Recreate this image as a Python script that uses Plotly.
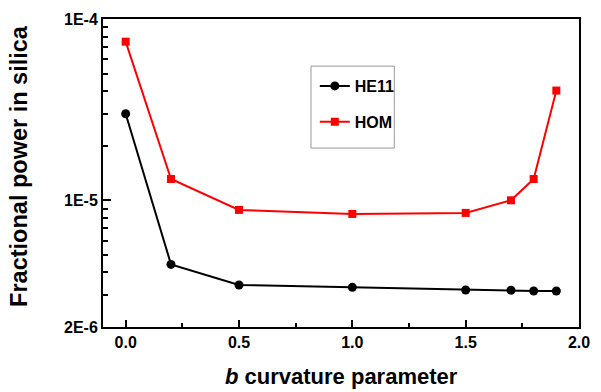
import plotly.graph_objects as go

b_values = [0.0, 0.2, 0.5, 1.0, 1.5, 1.7, 1.8, 1.9]
he11 = [3.0e-5, 4.43e-6, 3.41e-6, 3.31e-6, 3.20e-6, 3.19e-6, 3.16e-6, 3.16e-6]
hom = [7.5e-5, 1.31e-5, 8.85e-6, 8.41e-6, 8.52e-6, 1.0e-5, 1.31e-5, 4.03e-5]

y_tickvals = [1e-4, 1e-5, 2e-6]
y_ticktext = ["1E-4", "1E-5", "2E-6"]
y_minor = [2e-5, 3e-5, 4e-5, 5e-5, 6e-5, 7e-5, 8e-5, 9e-5,
           3e-6, 4e-6, 5e-6, 6e-6, 7e-6, 8e-6, 9e-6]
x_tickvals = [0.0, 0.5, 1.0, 1.5, 2.0]
x_ticktext = ["0.0", "0.5", "1.0", "1.5", "2.0"]
x_minor = [0.25, 0.75, 1.25, 1.75]

x_title = "<i>b</i> curvature parameter"
y_title = "Fractional power in silica"

x_range = [-0.1, 2.0]
y_range = [-5.69897, -4.0]

font_family = "Liberation Sans, Arial, sans-serif"

fig = go.Figure()
fig.add_trace(go.Scatter(
    x=b_values, y=he11, name="HE11", mode="lines+markers", legendgroup="g1",
    line=dict(color="black", width=2),
    marker=dict(symbol="circle", size=9, color="black"),
))
fig.add_trace(go.Scatter(
    x=b_values, y=hom, name="HOM", mode="lines+markers", legendgroup="g2",
    line=dict(color="#ff0000", width=2),
    marker=dict(symbol="square", size=8, color="#ff0000"),
))
# empty trace to host the minor-tick overlay axes
fig.add_trace(go.Scatter(x=[], y=[], xaxis="x2", yaxis="y2",
                         showlegend=False, hoverinfo="skip"))

# legend frame
fig.add_shape(type="rect", xref="paper", yref="paper",
              x0=0.437, x1=0.612, y0=0.581, y1=0.847,
              line=dict(color="#999999", width=1), fillcolor="rgba(0,0,0,0)")

# axis titles
fig.add_annotation(text=x_title, xref="paper", yref="paper", x=0.5, y=-0.16,
                   xanchor="center", yanchor="middle", showarrow=False,
                   font=dict(size=22, family=font_family, weight="bold", color="black"))
fig.add_annotation(text=y_title, xref="paper", yref="paper", x=-0.178, y=0.524,
                   xanchor="center", yanchor="middle", showarrow=False, textangle=-90,
                   font=dict(size=23.5, family=font_family, weight="bold", color="black"))

fig.update_layout(
    width=601, height=392,
    margin=dict(l=103, r=11, t=14, b=65),
    plot_bgcolor="white", paper_bgcolor="white",
    font=dict(family=font_family, color="black"),
    showlegend=True,
    legend=dict(
        x=0.445, y=0.724, xanchor="left", yanchor="middle",
        borderwidth=0, bgcolor="rgba(0,0,0,0)",
        font=dict(size=16, family=font_family, weight="bold"),
        tracegroupgap=12, itemwidth=30,
    ),
    xaxis=dict(
        range=x_range, showgrid=False, zeroline=False,
        showline=True, linecolor="black", linewidth=2, mirror=True,
        ticks="inside", ticklen=7, tickwidth=2, tickcolor="black",
        tickmode="array", tickvals=x_tickvals, ticktext=x_ticktext,
        tickfont=dict(size=16, family=font_family, weight="bold"),
    ),
    yaxis=dict(
        type="log", range=y_range, showgrid=False, zeroline=False,
        showline=True, linecolor="black", linewidth=2, mirror=True,
        ticks="inside", ticklen=8, tickwidth=2, tickcolor="black",
        tickmode="array", tickvals=y_tickvals, ticktext=y_ticktext,
        tickfont=dict(size=16, family=font_family, weight="bold"),
    ),
    xaxis2=dict(
        overlaying="x", anchor="y", side="bottom", range=x_range,
        showgrid=False, zeroline=False, showline=False,
        ticks="inside", ticklen=4, tickwidth=2, tickcolor="black",
        tickmode="array", tickvals=x_minor, showticklabels=False,
    ),
    yaxis2=dict(
        overlaying="y", anchor="x", side="left", type="log", range=y_range,
        showgrid=False, zeroline=False, showline=False,
        ticks="inside", ticklen=5, tickwidth=2, tickcolor="black",
        tickmode="array", tickvals=y_minor, showticklabels=False,
    ),
)

fig.write_html("out.html", post_script="document.body.style.margin='0px';",
               config={"displayModeBar": False})
